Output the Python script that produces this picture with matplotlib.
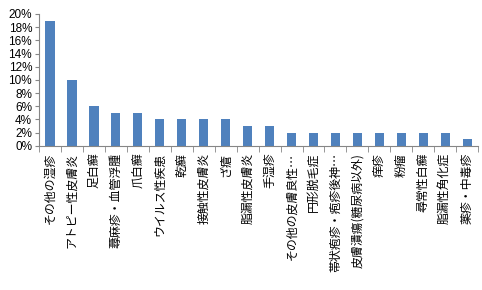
import matplotlib.pyplot as plt
from matplotlib.ticker import PercentFormatter, FixedLocator
import numpy as np

plt.rcParams['font.family'] = ['Noto Sans CJK JP', 'DejaVu Sans']

# 疾患名と割合(%)
categories = ['その他の湿疹', 'アトピー性皮膚炎', '足白癬', '蕁麻疹・血管浮腫', '爪白癬',
              'ウイルス性疾患', '乾癬', '接触性皮膚炎', 'ざ瘡', '脂漏性皮膚炎', '手湿疹',
              'その他の皮膚良性…', '円形脱毛症', '帯状疱疹・疱疹後神…', '皮膚潰瘍(糖尿病以外)',
              '痒疹', '粉瘤', '尋常性白癬', '脂漏性角化症', '薬疹・中毒疹']
values = [19, 10, 6, 5, 5, 4, 4, 4, 4, 3, 3, 2, 2, 2, 2, 2, 2, 2, 2, 1]

fig = plt.figure(figsize=(4.82, 2.9), dpi=100)
ax = fig.add_axes([0.081, 0.497, 0.911, 0.455])

x = np.arange(len(categories))
ax.bar(x, values, width=0.42, color='#4f81bd')

ax.set_xlim(-0.5, len(categories) - 0.5)
ax.set_ylim(0, 20)
ax.set_yticks(range(0, 21, 2))
ax.yaxis.set_major_formatter(PercentFormatter(decimals=0))
for lbl in ax.get_yticklabels():
    lbl.set_family(['Liberation Sans', 'DejaVu Sans'])
    lbl.set_fontsize(8.5)

ax.set_xticks(x)
ax.set_xticklabels(categories, rotation=90, fontsize=8.6, va='top', ha='center')
ax.xaxis.set_minor_locator(FixedLocator(np.arange(-0.5, len(categories), 1)))
ax.tick_params(axis='x', which='major', length=0, pad=5)
ax.tick_params(axis='x', which='minor', length=4, color='#868686')
ax.tick_params(axis='y', length=3, color='#868686', pad=2)

for s in ['top', 'right']:
    ax.spines[s].set_visible(False)
for s in ['left', 'bottom']:
    ax.spines[s].set_color('#868686')

fig.savefig('out.png', dpi=100)
